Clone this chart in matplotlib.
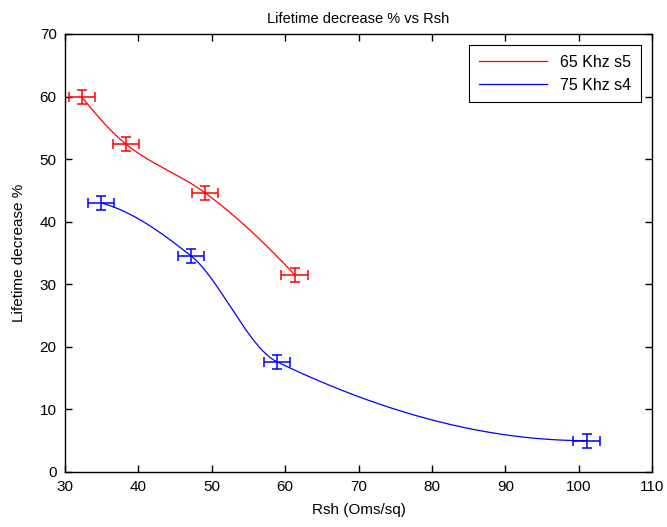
import numpy as np
import matplotlib
matplotlib.use('Agg')
import matplotlib.pyplot as plt

# Data
rsh_65 = [32.3, 38.3, 49.1, 61.3]
life_65 = [59.9, 52.4, 44.6, 31.5]
xerr_65 = [1.8, 1.8, 1.8, 1.8]
yerr_65 = [1.1, 1.1, 1.1, 1.1]

rsh_75 = [34.9, 47.2, 58.9, 101.1]
life_75 = [43.0, 34.5, 17.6, 5.0]
xerr_75 = [1.8, 1.8, 1.8, 1.8]
yerr_75 = [1.1, 1.1, 1.1, 1.1]

labels = ['65 Khz s5', '75 Khz s4']


def pchip(x, y, n=200):
    '''
    Shape preserving cubic interpolation (Fritsch-Carlson), for drawing the line
    '''
    x = np.asarray(x, float)
    y = np.asarray(y, float)
    h = np.diff(x)
    d = np.diff(y) / h
    m = np.zeros_like(y)
    for k in range(1, len(x) - 1):
        if d[k-1] * d[k] > 0:
            w1 = 2*h[k] + h[k-1]
            w2 = h[k] + 2*h[k-1]
            m[k] = (w1 + w2) / (w1/d[k-1] + w2/d[k])
    # end slopes
    def end(h0, h1, d0, d1):
        s = ((2*h0 + h1)*d0 - h0*d1) / (h0 + h1)
        if np.sign(s) != np.sign(d0):
            s = 0
        elif np.sign(d0) != np.sign(d1) and abs(s) > abs(3*d0):
            s = 3*d0
        return s
    m[0] = end(h[0], h[1], d[0], d[1])
    m[-1] = end(h[-1], h[-2], d[-1], d[-2])
    xs = np.linspace(x[0], x[-1], n)
    idx = np.clip(np.searchsorted(x, xs) - 1, 0, len(x) - 2)
    t = (xs - x[idx]) / h[idx]
    h00 = 2*t**3 - 3*t**2 + 1
    h10 = t**3 - 2*t**2 + t
    h01 = -2*t**3 + 3*t**2
    h11 = t**3 - t**2
    ys = h00*y[idx] + h10*h[idx]*m[idx] + h01*y[idx+1] + h11*h[idx]*m[idx+1]
    return xs, ys


plt.rcParams['font.family'] = ['Liberation Sans', 'DejaVu Sans']
plt.rcParams['font.size'] = 11

fig = plt.figure(figsize=(6.67, 5.27), dpi=100)
ax = fig.add_axes([0.0975, 0.1044, 0.88, 0.8311])

for xs, ys, xe, ye, col, lab in [(rsh_65, life_65, xerr_65, yerr_65, 'red', labels[0]),
                                  (rsh_75, life_75, xerr_75, yerr_75, 'blue', labels[1])]:
    cx, cy = pchip(xs, ys)
    ax.plot(cx, cy, '-', color=col, lw=0.9, label=lab)
    ax.errorbar(xs, ys, xerr=xe, yerr=ye, fmt='none', ecolor=col,
                elinewidth=1.1, capsize=3.5, capthick=1.1)

ax.set_xlim(30, 110)
ax.set_ylim(0, 70)
ax.set_xticks(np.arange(30, 111, 10))
ax.set_yticks(np.arange(0, 71, 10))
ax.tick_params(direction='in', top=True, right=True, length=5, width=1,
               labelsize=11, pad=6)
for s in ax.spines.values():
    s.set_linewidth(1)

ax.set_title('Lifetime decrease % vs Rsh', fontsize=10.5, pad=8)
ax.set_xlabel('Rsh (Oms/sq)', fontsize=11, labelpad=6)
ax.set_ylabel('Lifetime decrease %', fontsize=11, labelpad=10)

leg = ax.legend(loc='upper right', fancybox=False, edgecolor='black',
                framealpha=1, fontsize=11.5, handlelength=4.3, borderpad=0.6,
                borderaxespad=0.7)
leg.get_frame().set_linewidth(0.8)

fig.savefig('out.png', dpi=100)
